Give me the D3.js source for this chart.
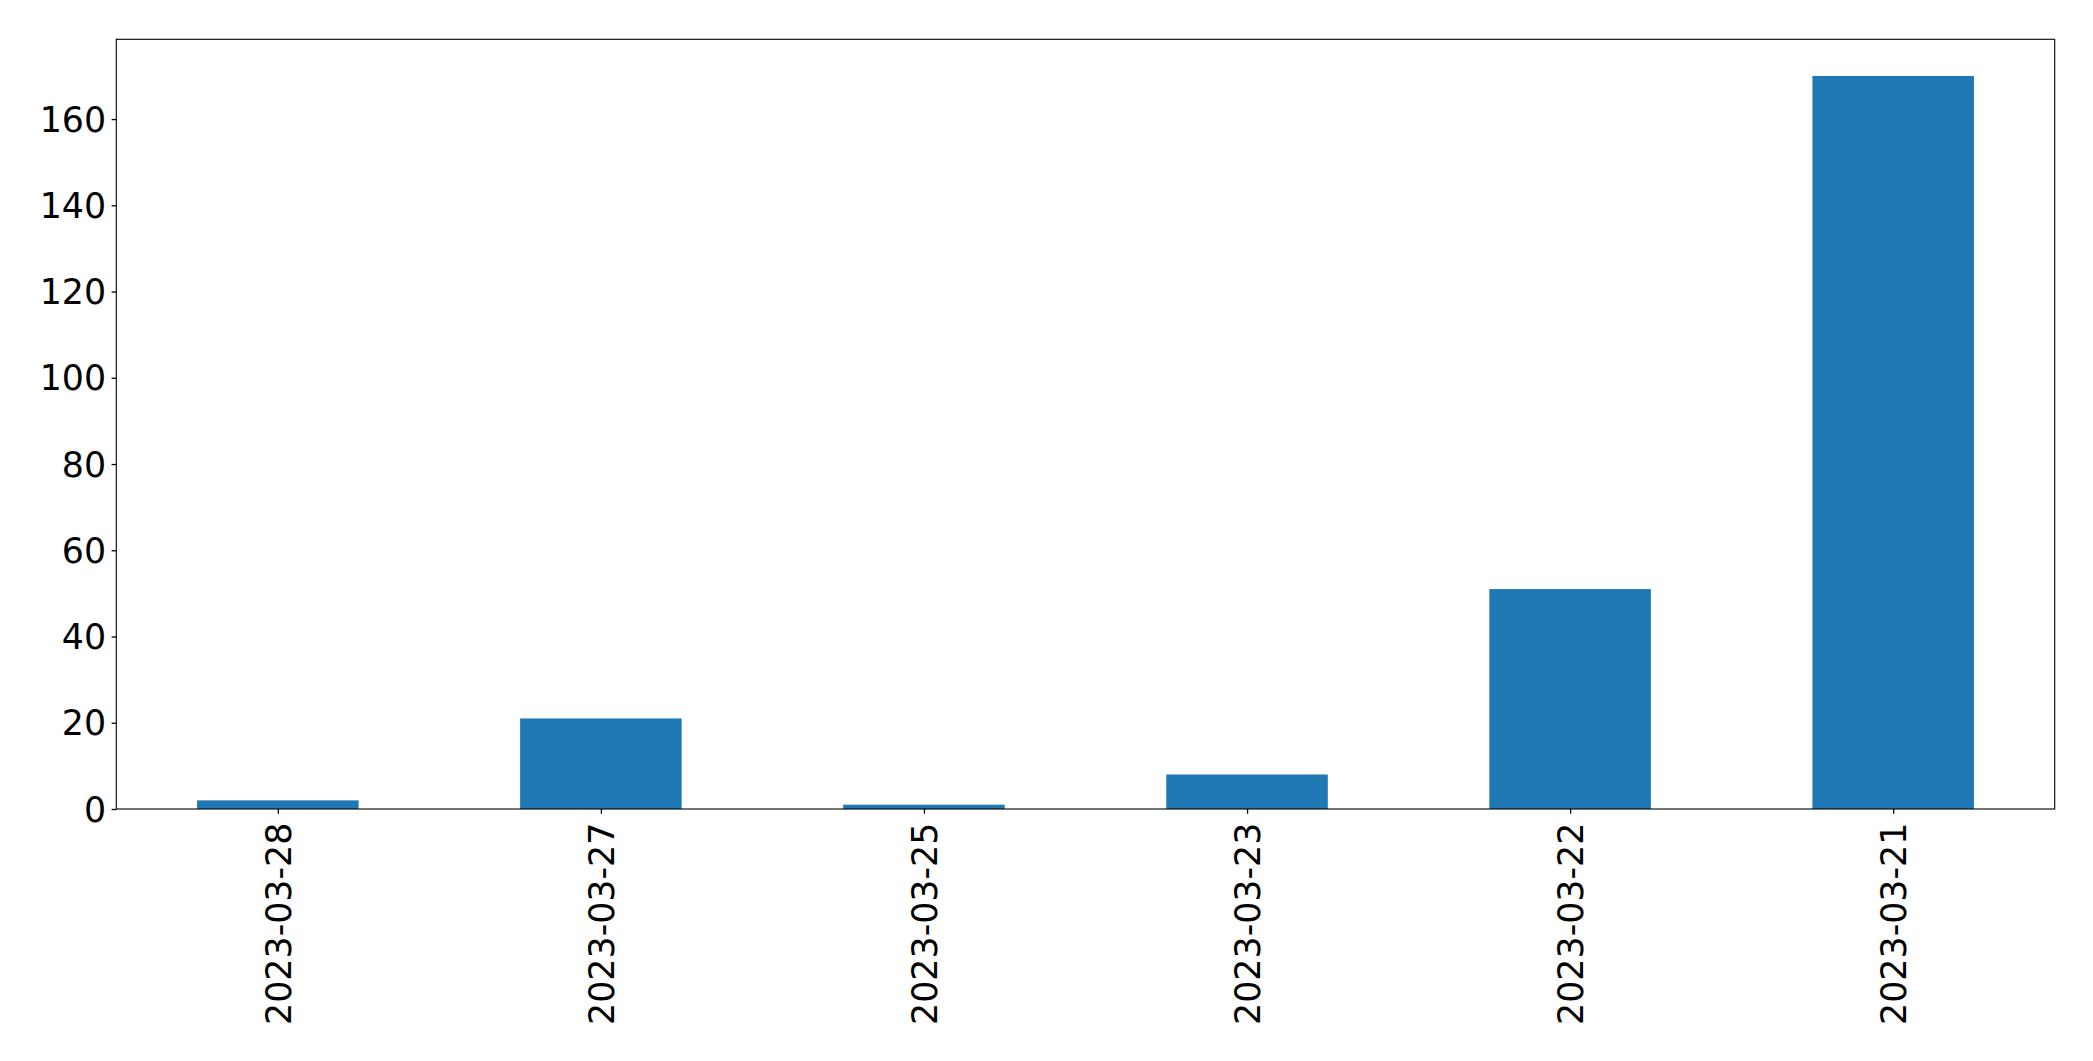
<!DOCTYPE html>
<html>
<head>
<meta charset="utf-8">
<script src="https://cdn.jsdelivr.net/npm/d3@7"></script>
<style>
  html, body { margin: 0; padding: 0; background: #fff; }
  svg { display: block; }
  text { font-family: "DejaVu Sans", sans-serif; fill: #000; }
</style>
</head>
<body>
<svg id="chart" width="2093" height="1061"></svg>
<script>
const categories = ["2023-03-28", "2023-03-27", "2023-03-25", "2023-03-23", "2023-03-22", "2023-03-21"];
const values = [2, 21, 1, 8, 51, 170];
const yTicks = [0, 20, 40, 60, 80, 100, 120, 140, 160];

const W = 2093, H = 1061;
const margin = { left: 116.3, right: W - 2054.7, top: 39.3, bottom: H - 809 };
const svg = d3.select("#chart");
const innerW = W - margin.left - margin.right;
const innerH = H - margin.top - margin.bottom;

const g = svg.append("g").attr("transform", `translate(${margin.left},${margin.top})`);

const x = d3.scaleLinear().domain([-0.5, categories.length - 0.5]).range([0, innerW]);
const y = d3.scaleLinear().domain([0, d3.max(values) * 1.05]).range([innerH, 0]);
const barW = 0.5;

g.selectAll("rect.bar")
  .data(values)
  .join("rect")
  .attr("class", "bar")
  .attr("x", (d, i) => x(i - barW / 2))
  .attr("width", (d, i) => x(i + barW / 2) - x(i - barW / 2))
  .attr("y", d => y(d))
  .attr("height", d => y(0) - y(d))
  .attr("fill", "#1f77b4");

const fontSize = 34.8;
const tickLen = 4.7;

// Y axis
const yAxis = d3.axisLeft(y).tickValues(yTicks).tickSize(tickLen).tickPadding(5.5).tickFormat(d3.format("d"));
const yg = g.append("g").call(yAxis);
yg.select(".domain").remove();
yg.selectAll(".tick line").attr("stroke", "#000").attr("stroke-width", 1.3);
yg.selectAll(".tick text").style("font-size", fontSize + "px").attr("font-family", "DejaVu Sans").attr("dy", "0.35em");

// X axis
const xAxis = d3.axisBottom(x).tickValues(d3.range(categories.length)).tickSize(tickLen).tickPadding(6).tickFormat(i => categories[i]);
const xg = g.append("g").attr("transform", `translate(0,${innerH})`).call(xAxis);
xg.select(".domain").remove();
xg.selectAll(".tick line").attr("stroke", "#000").attr("stroke-width", 1.3);
xg.selectAll(".tick text")
  .style("font-size", fontSize + "px")
  .attr("font-family", "DejaVu Sans")
  .attr("transform", "rotate(-90)")
  .attr("text-anchor", "end")
  .attr("x", -(tickLen + 9))
  .attr("y", 0)
  .attr("dy", "0.35em");

// Frame
g.append("rect")
  .attr("x", 0).attr("y", 0)
  .attr("width", innerW).attr("height", innerH)
  .attr("fill", "none").attr("stroke", "#000").attr("stroke-width", 1.1);
</script>
</body>
</html>
